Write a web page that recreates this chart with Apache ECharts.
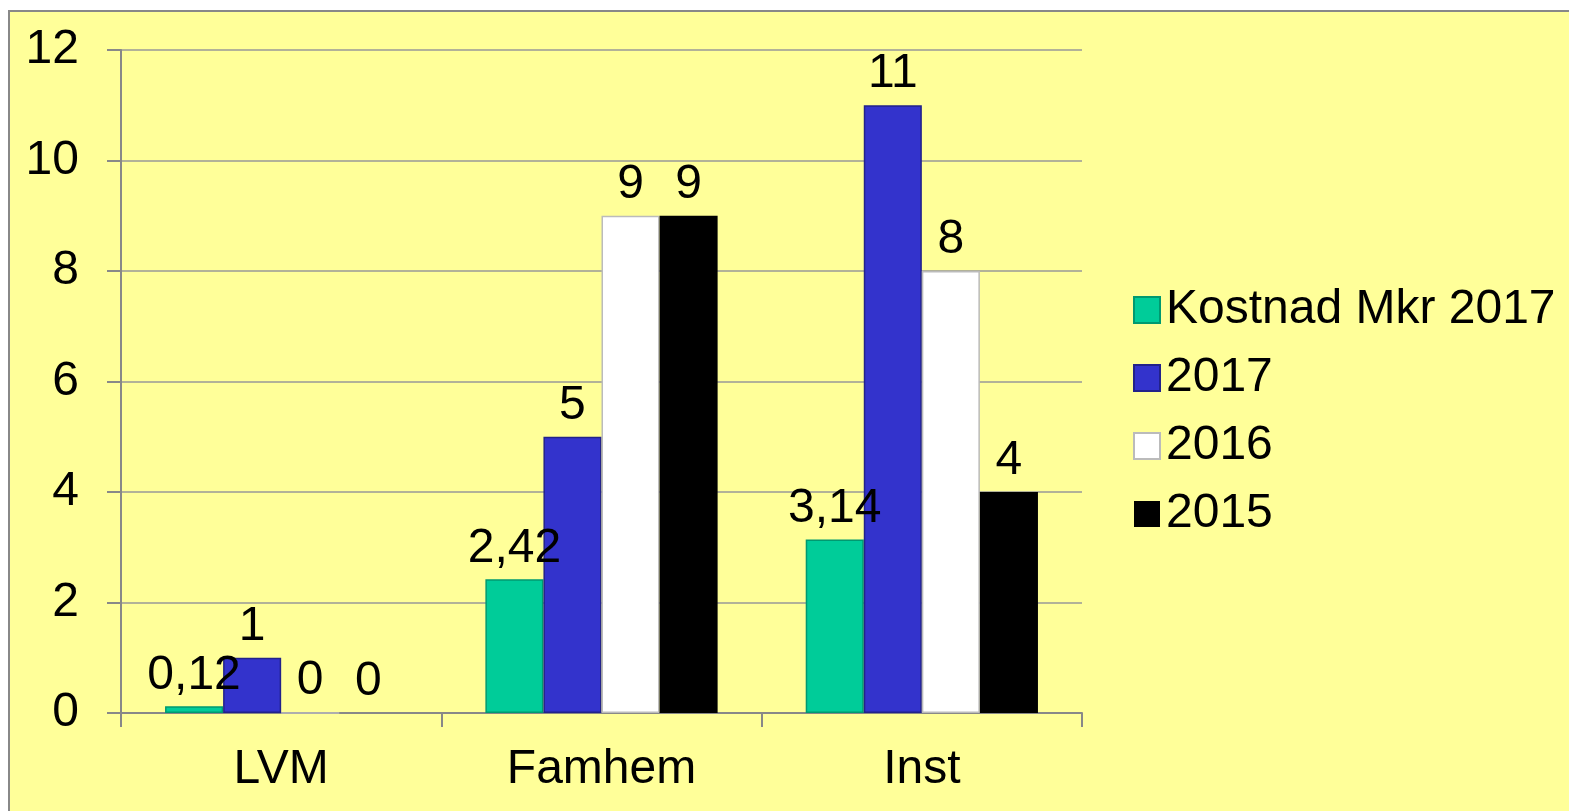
<!DOCTYPE html>
<html>
<head>
<meta charset="utf-8">
<style type="text/css">
html, body {margin: 0; padding: 0; background: #fff; overflow: hidden;}
.box {position: absolute; left: 8px; top: 10px; width: 1600px; height: 900px; background: #ffff99; border-left: 2px solid #888; border-top: 2px solid #888;}
.charts {position: absolute; left: 0; top: 0; width: 1569px; height: 811px;}
</style>
<script src="https://cdn.jsdelivr.net/npm/echarts@6/dist/echarts.min.js"></script>
</head>
<body>
<div class="box"></div>
<div class="charts" id="myChart"></div>
<script>
var categories = ['LVM', 'Famhem', 'Inst'];
var kostnad2017 = [0.12, 2.42, 3.14];
var antal2017 = [1, 5, 11];
var antal2016 = [0, 9, 8];
var antal2015 = [0, 9, 4];
var yTicks = [0, 2, 4, 6, 8, 10, 12];

var font = 'Liberation Sans, Arial, sans-serif';
var size = 48;

// etiketter med decimalkomma
function label(){
    return {
        show: true,
        position: 'top',
        distance: 7,
        color: '#000',
        fontFamily: font,
        fontSize: size,
        formatter: function(p){ return String(p.value).replace('.', ','); }
    };
}

function bar(name, data, fill, border, bw){
    return {
        name: name,
        type: 'bar',
        data: data,
        barGap: '0%',
        barCategoryGap: '27.5%',
        itemStyle: {color: fill, borderColor: border, borderWidth: bw},
        label: label()
    };
}

var options = {
    backgroundColor: 'transparent',
    animation: false,
    legend: {
        orient: 'vertical',
        left: 1128,
        top: 281,
        itemWidth: 26,
        itemHeight: 26,
        itemGap: 20,
        icon: 'rect',
        textStyle: {color: '#000', fontFamily: font, fontSize: size, padding: [0, 0, 0, 1]},
        data: ['Kostnad Mkr 2017', '2017', '2016', '2015']
    },
    grid: {left: 121, top: 50, width: 961, height: 663},
    xAxis: {
        type: 'category',
        data: categories,
        axisLine: {lineStyle: {color: '#888', width: 2}},
        axisTick: {show: true, length: 14, lineStyle: {color: '#888', width: 2}},
        axisLabel: {color: '#000', fontFamily: font, fontSize: size, margin: 33}
    },
    yAxis: {
        type: 'value',
        min: yTicks[0],
        max: yTicks[yTicks.length - 1],
        interval: yTicks[1] - yTicks[0],
        axisLine: {show: true, lineStyle: {color: '#888', width: 2}},
        axisTick: {show: true, length: 14, lineStyle: {color: '#888', width: 2}},
        axisLabel: {color: '#000', fontFamily: font, fontSize: size, margin: 42},
        splitLine: {lineStyle: {color: '#999', width: 1.5}}
    },
    series: [
        bar('Kostnad Mkr 2017', kostnad2017, '#00cc99', '#009970', 1.5),
        bar('2017', antal2017, '#3333cc', '#22228a', 1.5),
        bar('2016', antal2016, '#ffffff', '#bbbbbb', 1.5),
        bar('2015', antal2015, '#000000', '#000000', 0)
    ]
};

var myChart = echarts.init(document.getElementById('myChart'));
myChart.setOption(options);
</script>
</body>
</html>
